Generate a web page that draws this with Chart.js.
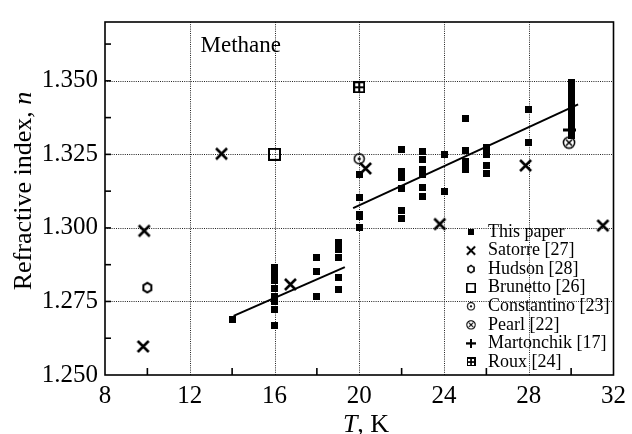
<!DOCTYPE html>
<html><head><meta charset="utf-8">
<script src="https://cdn.jsdelivr.net/npm/chart.js@4.4.1/dist/chart.umd.min.js"></script>
<style>html,body{margin:0;padding:0;background:#fff;} canvas{display:block;}</style>
</head><body>
<canvas id="c" width="632" height="434"></canvas>
<script>
// ---- axis ticks / labels ----
const xTickValues = [8,10,12,14,16,18,20,22,24,26,28,30,32];
const xTickLabels = ['8','12','16','20','24','28','32'];
const xGridValues = [12,16,20,24,28];
const yTickValues = [1.25,1.2625,1.275,1.2875,1.3,1.3125,1.325,1.3375,1.35,1.3625];
const yTickLabels = ['1.250','1.275','1.300','1.325','1.350'];
const yGridValues = [1.275,1.300,1.325,1.350];

const seriesNames = ['This paper','Satorre [27]','Hudson [28]','Brunetto [26]','Constantino [23]','Pearl [22]','Martonchik [17]','Roux [24]'];

// ---- data ----
const thisPaperT = [14,
  16,16,16,16,16,16,16,16,
  18,18,18,
  19,19,19,19,19,
  20,20,20,20,20,
  22,22,22,22,22,22,
  23,23,23,23,23,23,
  24,24,
  25,25,25,25,25,
  26,26,26,26,
  28,28,
  30,30,30,30,30,30,30,30,30,30,30,30,30,30,30,30];
const thisPaperN = [1.2689,
  1.2866,1.2840,1.2822,1.2795,1.2768,1.2750,1.2724,1.2668,
  1.2900,1.2852,1.2766,
  1.2951,1.2927,1.2900,1.2831,1.2792,
  1.3180,1.3102,1.3047,1.3038,1.3002,
  1.3267,1.3193,1.3173,1.3133,1.3059,1.3031,
  1.3261,1.3231,1.3200,1.3183,1.3138,1.3108,
  1.3250,1.3123,
  1.3373,1.3264,1.3226,1.3212,1.3198,
  1.3273,1.3250,1.3212,1.3186,
  1.3401,1.3291,
  1.3495,1.3483,1.3471,1.3459,1.3447,1.3435,1.3422,1.3410,1.3398,1.3386,1.3374,1.3362,1.3350,1.3338,1.3326,1.3314];
const satorreT = [9.8, 9.85, 13.5, 16.75, 20.3, 23.8, 27.85, 31.5];
const satorreN = [1.2597, 1.2990, 1.3252, 1.2808, 1.3202, 1.3013, 1.3212, 1.3008];
const hudsonT = [10.0];      const hudsonN = [1.2797];
const brunettoT = [16.0];    const brunettoN = [1.3250];
const constantinoT = [20.0]; const constantinoN = [1.3235];
const pearlT = [29.9];       const pearlN = [1.3290];
const martonchikT = [29.94]; const martonchikN = [1.3333];
const rouxT = [20.0];        const rouxN = [1.3478];
const fit1T = [14.07, 19.32]; const fit1N = [1.2701, 1.2867];
const fit2T = [19.71, 30.33]; const fit2N = [1.3067, 1.3420];

// ---- marker images ----
function mk(w,h,draw){const c=document.createElement('canvas');c.width=w;c.height=h;const g=c.getContext('2d');g.strokeStyle='#000';g.fillStyle='#000';draw(g,w,h);return c;}
const mSquare = mk(7,7,g=>g.fillRect(0,0,7,7));
const mX = mk(15,15,g=>{g.lineWidth=2.6;g.beginPath();g.moveTo(2,2);g.lineTo(13,13);g.moveTo(13,2);g.lineTo(2,13);g.stroke();});
const mHex = mk(12,13,g=>{g.lineWidth=2;g.beginPath();for(let k=0;k<6;k++){const a=Math.PI/2+k*Math.PI/3;const px=6+4.6*Math.cos(a),py=6.5+4.8*Math.sin(a);k?g.lineTo(px,py):g.moveTo(px,py);}g.closePath();g.stroke();});
const mOpenSq = mk(13,13,g=>{g.lineWidth=2;g.strokeRect(1,1,11,11);});
const mCircDot = mk(13,13,g=>{g.lineWidth=1.5;g.beginPath();g.arc(6.5,6.5,5,0,2*Math.PI);g.stroke();g.beginPath();g.arc(6.5,6.5,1.6,0,2*Math.PI);g.fill();});
const mPearl = mk(14,14,g=>{g.lineWidth=1.5;g.beginPath();g.arc(7,7,5.6,0,2*Math.PI);g.stroke();g.beginPath();g.moveTo(4,4);g.lineTo(10,10);g.moveTo(10,4);g.lineTo(4,10);g.stroke();});
const mPlus = mk(13,13,g=>{g.lineWidth=3;g.beginPath();g.moveTo(0,6.5);g.lineTo(13,6.5);g.moveTo(6.5,0);g.lineTo(6.5,13);g.stroke();});
const mRoux = mk(12,12,g=>{g.fillRect(0,0,12,12);g.fillStyle='#fff';g.fillRect(2,2,3,3);g.fillRect(7,2,3,3);g.fillRect(2,7,3,3);g.fillRect(7,7,3,3);});
const markers = [mSquare,mX,mHex,mOpenSq,mCircDot,mPearl,mPlus,mRoux];

const pts = (T,N)=>T.map((t,i)=>({x:t,y:N[i]}));
const FONT = '"Liberation Serif", "Times New Roman", serif';
Chart.defaults.font.family = FONT;
Chart.defaults.color = '#000';

function pointSet(i, T, N, order){
  return {label:seriesNames[i], data:pts(T,N), pointStyle:markers[i], pointRadius:4, showLine:false, order:order};
}
const datasets = [
  pointSet(0, thisPaperT, thisPaperN, 5),
  pointSet(1, satorreT, satorreN, 4),
  pointSet(2, hudsonT, hudsonN, 4),
  pointSet(3, brunettoT, brunettoN, 4),
  pointSet(4, constantinoT, constantinoN, 4),
  pointSet(5, pearlT, pearlN, 3),
  pointSet(6, martonchikT, martonchikN, 6),
  pointSet(7, rouxT, rouxN, 4),
  {label:'fit1', data:pts(fit1T,fit1N), showLine:true, pointRadius:0, borderColor:'#000', borderWidth:2, order:7},
  {label:'fit2', data:pts(fit2T,fit2N), showLine:true, pointRadius:0, borderColor:'#000', borderWidth:2, order:7}
];

const deco = {
  id:'deco',
  beforeDatasetsDraw(chart){
    const {ctx, chartArea:a, scales:{x,y}} = chart;
    ctx.save(); ctx.strokeStyle='#222'; ctx.lineWidth=1; ctx.setLineDash([1,1.2]);
    xGridValues.forEach(v=>{const p=Math.round(x.getPixelForValue(v))+0.5;ctx.beginPath();ctx.moveTo(p,a.top);ctx.lineTo(p,a.bottom);ctx.stroke();});
    yGridValues.forEach(v=>{const p=Math.round(y.getPixelForValue(v))+0.5;ctx.beginPath();ctx.moveTo(a.left,p);ctx.lineTo(a.right,p);ctx.stroke();});
    ctx.restore();
  },
  afterDatasetsDraw(chart){
    const {ctx, chartArea:a, scales:{x,y}} = chart;
    ctx.save();
    ctx.strokeStyle='#000'; ctx.lineWidth=1.6; ctx.setLineDash([]);
    ctx.strokeRect(a.left, a.top, a.right-a.left, a.bottom-a.top);
    ctx.lineWidth=1.6;
    xTickValues.forEach(v=>{ if(v<=x.min||v>=x.max||xGridValues.includes(v)) return; const p=x.getPixelForValue(v); ctx.beginPath();ctx.moveTo(p,a.bottom);ctx.lineTo(p,a.bottom-7);ctx.stroke();});
    yTickValues.forEach(v=>{ if(v<=y.min+1e-9||v>=y.max) return; const p=y.getPixelForValue(v); ctx.beginPath();ctx.moveTo(a.left,p);ctx.lineTo(a.left+6,p);ctx.stroke();});
    ctx.fillStyle='#000';
    // x title
    const f26='26px '+FONT;
    ctx.textBaseline='alphabetic'; ctx.textAlign='left';
    ctx.font='italic '+f26; const wT=ctx.measureText('T').width;
    ctx.font=f26; const wK=ctx.measureText(', K').width;
    let sx = 366-(wT+wK)/2;
    ctx.font='italic '+f26; ctx.fillText('T',sx,432);
    ctx.font=f26; ctx.fillText(', K',sx+wT,432);
    // y title
    ctx.save();
    ctx.translate(31,191); ctx.rotate(-Math.PI/2);
    ctx.font=f26; const w1=ctx.measureText('Refractive index, ').width;
    ctx.font='italic '+f26; const w2=ctx.measureText('n').width;
    let sy=-(w1+w2)/2;
    ctx.font=f26; ctx.fillText('Refractive index, ',sy,0);
    ctx.font='italic '+f26; ctx.fillText('n',sy+w1,0);
    ctx.restore();
    // Methane label
    ctx.font='23px '+FONT; ctx.fillText('Methane',200.5,51.5);
    // legend
    ctx.font='18px '+FONT; ctx.textBaseline='middle';
    seriesNames.forEach((name,i)=>{
      const yy = 232 + i*18.57;
      const m = markers[i]; const s = 0.75;
      ctx.drawImage(m, 471 - m.width*s/2, yy - m.height*s/2, m.width*s, m.height*s);
      ctx.fillText(name, 488, yy);
    });
    ctx.restore();
  }
};

new Chart(document.getElementById('c'), {
  type:'scatter',
  data:{datasets},
  options:{
    responsive:false, animation:false, events:[], devicePixelRatio:1,
    layout:{padding:{left:0,right:12,top:15,bottom:0}},
    plugins:{legend:{display:false}, tooltip:{enabled:false}},
    scales:{
      x:{type:'linear', min:8, max:32,
        afterBuildTicks:s=>{s.ticks=xTickValues.map(v=>({value:v}));},
        afterFit:s=>{s.height=59;},
        grid:{display:false, drawTicks:false}, border:{display:false},
        ticks:{autoSkip:false, maxRotation:0, padding:6, font:{size:25}, color:'#000',
          callback:v=>{const s=String(v);return xTickLabels.includes(s)?s:'';}}
      },
      y:{type:'linear', min:1.25, max:1.37,
        afterBuildTicks:s=>{s.ticks=yTickValues.map(v=>({value:v}));},
        afterFit:s=>{s.width=105;},
        grid:{display:false, drawTicks:false}, border:{display:false},
        ticks:{autoSkip:false, padding:7, font:{size:25}, color:'#000',
          callback:v=>{const l=yTickLabels.find(t=>Math.abs(parseFloat(t)-v)<1e-6);return l||'';}}
      }
    }
  },
  plugins:[deco]
});
</script>
</body></html>
